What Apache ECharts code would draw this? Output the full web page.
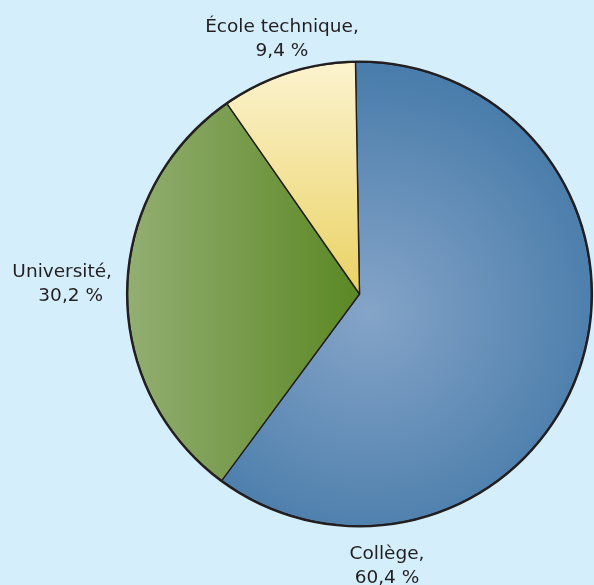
<!DOCTYPE html>
<html><head><meta charset="utf-8">
<script src="https://cdn.jsdelivr.net/npm/echarts@6/dist/echarts.min.js"></script>
<style>html,body{margin:0;padding:0;background:#d4effb;}#c{width:594px;height:585px;}</style>
</head><body><div id="c"></div>
<script>
const categories = ['Collège', 'Université', 'École technique'];
const shares = [60.4, 30.2, 9.4];

const fmtVal = v => v.toFixed(1).replace('.', ',') + ' %';

const CX = 359.5, CY = 294, R = 232;
const FONT = '"DejaVu Sans", Verdana, sans-serif';
const FS = 18.5, LH = 24;
const fills = [
  {type:'radial', x: 368, y: 312, r: 240, global: true,
   colorStops:[{offset:0,color:'#85a4c8'},{offset:1,color:'#4a7dab'}]},
  {type:'linear', x: 127, y: 0, x2: 360, y2: 0, global: true,
   colorStops:[{offset:0,color:'#93ae72'},{offset:1,color:'#5b8824'}]},
  {type:'linear', x: 0, y: 62, x2: 0, y2: 295, global: true,
   colorStops:[{offset:0,color:'#fcf3cf'},{offset:1,color:'#ead263'}]}
];
const labelPlace = [
  {x: 387, y: 566, align: 'center', padR: 0},
  {x: 112, y: 284, align: 'right', padR: 9},
  {x: 282, y: 39, align: 'center', padR: 0}
];

const chart = echarts.init(document.getElementById('c'), null, {renderer:'canvas'});
chart.setOption({
  backgroundColor: '#d4effb',
  animation: false,
  series: [{
    type: 'pie',
    center: [CX, CY],
    radius: R,
    startAngle: 91,
    clockwise: true,
    avoidLabelOverlap: false,
    itemStyle: {borderColor: '#231f20', borderWidth: 1.4},
    label: {
      show: true,
      position: 'outside',
      formatter: p => '{n|' + p.name + ',}\n{v|' + fmtVal(p.value) + '}',
      color: '#231f20',
      fontFamily: FONT,
      fontSize: FS,
      lineHeight: LH
    },
    labelLine: {show: false},
    labelLayout: p => {
      const l = labelPlace[p.dataIndex];
      return {x: l.x, y: l.y, align: l.align, verticalAlign: 'middle'};
    },
    emphasis: {disabled: true},
    data: categories.map((c, i) => ({
      name: c, value: shares[i], itemStyle: {color: fills[i]},
      label: {rich: {
        n: {fontSize: FS, lineHeight: LH, color: '#231f20', fontFamily: FONT},
        v: {fontSize: FS, lineHeight: LH, color: '#231f20', fontFamily: FONT,
            padding: [0, labelPlace[i].padR, 0, 0]}
      }}
    }))
  }, {
    type: 'pie',
    center: [CX, CY],
    radius: [R - 0.8, R + 1.6],
    silent: true,
    label: {show: false},
    labelLine: {show: false},
    emphasis: {disabled: true},
    itemStyle: {color: '#231f20', borderWidth: 0},
    data: [{value: 1, name: 'outline'}]
  }]
});
</script>
</body></html>
